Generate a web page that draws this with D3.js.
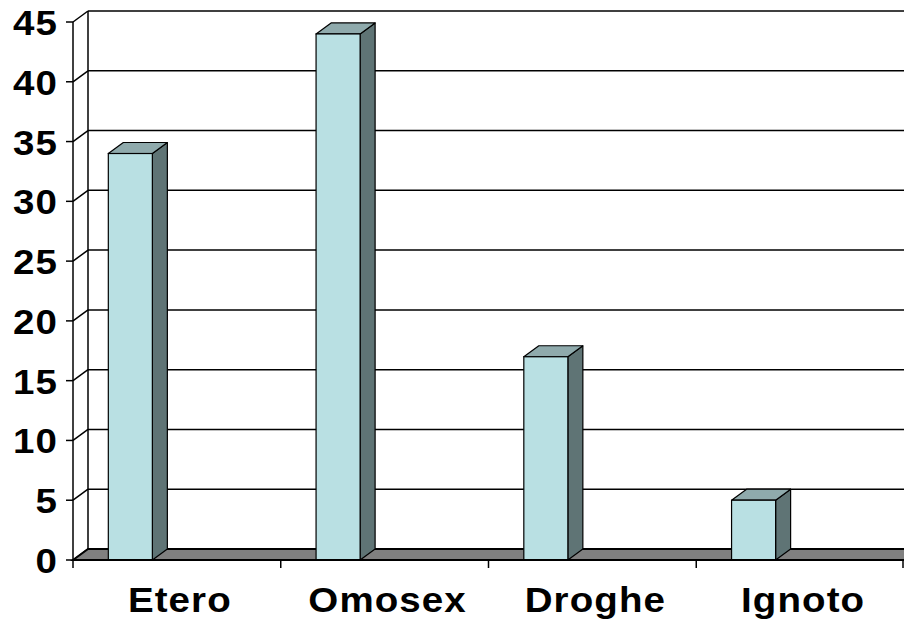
<!DOCTYPE html>
<html>
<head>
<meta charset="utf-8">
<script src="https://cdn.jsdelivr.net/npm/d3@7"></script>
<style>
  html, body { margin: 0; padding: 0; background: #fff; }
  svg { display: block; }
</style>
</head>
<body>
<svg id="chart" width="904" height="624"></svg>
<script>
const categories = ["Etero", "Omosex", "Droghe", "Ignoto"];
const values = [34, 44, 17, 5];
const yTicks = [0, 5, 10, 15, 20, 25, 30, 35, 40, 45];

(function () {
const svg = d3.select("#chart");
const plotLeft = 73, plotRight = 904, plotBottom = 560, plotTop = 22;
const dx = 15, dy = -11;
const stretch = 1.1;

const x = d3.scaleBand().domain(categories).range([plotLeft, plotRight]).padding(0);
const y = d3.scaleLinear().domain([0, 45]).range([plotBottom, plotTop]);
const bw = x.bandwidth();

const colFront = "#B9E0E3", colSide = "#5F7475", colTop = "#8FAAAC";

// Back wall gridlines
svg.append("g").selectAll("line").data(yTicks).join("line")
  .attr("x1", plotLeft + dx).attr("x2", plotRight + dx)
  .attr("y1", d => y(d) + dy).attr("y2", d => y(d) + dy)
  .attr("stroke", "#000").attr("stroke-width", 1.5);

// Side wall diagonal gridlines
svg.append("g").selectAll("line").data(yTicks).join("line")
  .attr("x1", plotLeft).attr("x2", plotLeft + dx)
  .attr("y1", d => y(d)).attr("y2", d => y(d) + dy)
  .attr("stroke", "#000").attr("stroke-width", 1.5);

// Side wall back vertical
svg.append("line").attr("x1", plotLeft + dx).attr("x2", plotLeft + dx)
  .attr("y1", y(0) + dy).attr("y2", y(45) + dy)
  .attr("stroke", "#000").attr("stroke-width", 1.5);

// Floor
svg.append("path")
  .attr("d", d3.line()([[plotLeft, y(0)], [plotLeft + dx, y(0) + dy], [plotRight + dx, y(0) + dy], [plotRight, y(0)]]) + "Z")
  .attr("fill", "#808080").attr("stroke", "#000").attr("stroke-width", 2);

// Bars
const bars = svg.append("g").selectAll("g").data(categories).join("g");
const bx = c => x(c) + bw * 0.17;
const bwid = bw * 0.212;
bars.append("path")
  .attr("d", (c, i) => {
    const x0 = bx(c) + bwid, yt = y(values[i]), yb = y(0);
    return d3.line()([[x0, yb], [x0 + dx, yb + dy], [x0 + dx, yt + dy], [x0, yt]]) + "Z";
  })
  .attr("fill", colSide).attr("stroke", "#000").attr("stroke-width", 1.2).attr("stroke-linejoin", "round");
bars.append("path")
  .attr("d", (c, i) => {
    const x0 = bx(c), yt = y(values[i]);
    return d3.line()([[x0, yt], [x0 + dx, yt + dy], [x0 + bwid + dx, yt + dy], [x0 + bwid, yt]]) + "Z";
  })
  .attr("fill", colTop).attr("stroke", "#000").attr("stroke-width", 1.2).attr("stroke-linejoin", "round");
bars.append("rect")
  .attr("x", c => bx(c)).attr("width", bwid)
  .attr("y", (c, i) => y(values[i])).attr("height", (c, i) => y(0) - y(values[i]))
  .attr("fill", colFront).attr("stroke", "#000").attr("stroke-width", 1.2);

// Y axis
const yAxis = svg.append("g");
yAxis.append("line").attr("x1", plotLeft).attr("x2", plotLeft).attr("y1", y(0)).attr("y2", y(45))
  .attr("stroke", "#000").attr("stroke-width", 1.5);
yAxis.append("g").selectAll("line").data(yTicks).join("line")
  .attr("x1", plotLeft - 7).attr("x2", plotLeft).attr("y1", d => y(d)).attr("y2", d => y(d))
  .attr("stroke", "#000").attr("stroke-width", 1.5);
yAxis.append("g").selectAll("text").data(yTicks).join("text")
  .attr("transform", d => `translate(${plotLeft - 15},${y(d) + 13}) scale(${stretch},1)`)
  .attr("text-anchor", "end")
  .attr("font-family", "'Liberation Sans', Arial, sans-serif")
  .attr("font-weight", "bold").attr("font-size", 35)
  .attr("letter-spacing", 1)
  .text(d => d);

// X axis
const xAxis = svg.append("g");
xAxis.append("line").attr("x1", plotLeft).attr("x2", plotRight).attr("y1", y(0)).attr("y2", y(0))
  .attr("stroke", "#000").attr("stroke-width", 2);
const bounds = categories.map(c => x(c)).concat([plotRight - 1]);
xAxis.append("g").selectAll("line").data(bounds).join("line")
  .attr("x1", d => d).attr("x2", d => d).attr("y1", y(0)).attr("y2", y(0) + 8)
  .attr("stroke", "#000").attr("stroke-width", 1.5);
xAxis.append("g").selectAll("text").data(categories).join("text")
  .attr("transform", c => `translate(${x(c) + bw / 2 + 3},612) scale(${stretch},1)`)
  .attr("text-anchor", "middle")
  .attr("font-family", "'Liberation Sans', Arial, sans-serif")
  .attr("font-weight", "bold").attr("font-size", 35)
  .attr("letter-spacing", 1)
  .text(c => c);
})();
</script>
</body>
</html>
